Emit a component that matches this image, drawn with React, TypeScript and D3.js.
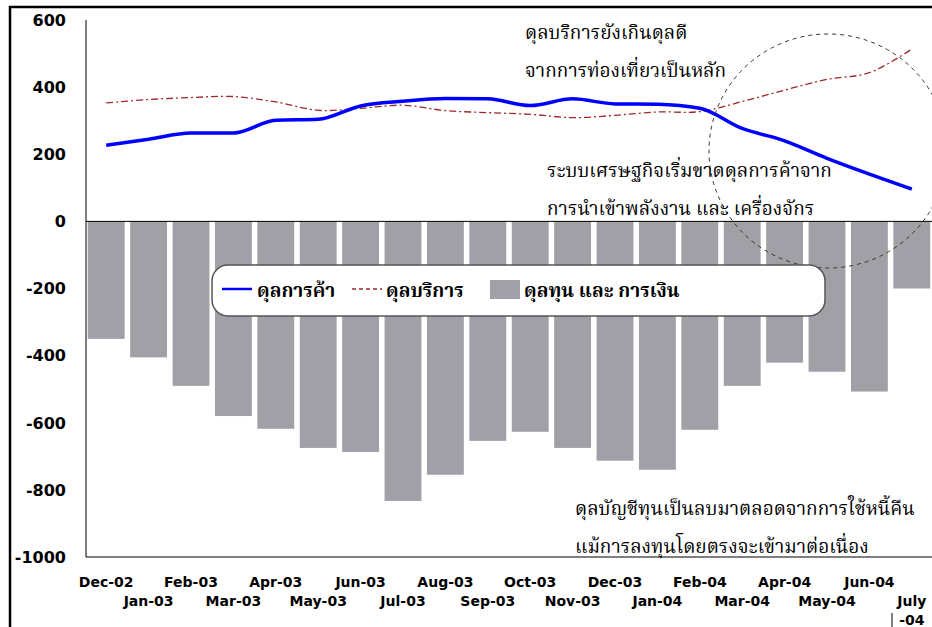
import React from 'react';
import * as d3 from 'd3';

// months shown on the x axis
const months = [
  'Dec-02', 'Jan-03', 'Feb-03', 'Mar-03', 'Apr-03', 'May-03', 'Jun-03', 'Jul-03',
  'Aug-03', 'Sep-03', 'Oct-03', 'Nov-03', 'Dec-03', 'Jan-04', 'Feb-04', 'Mar-04',
  'Apr-04', 'May-04', 'Jun-04', 'July-04',
];

// ดุลการค้า (trade balance)
const tradeBalance = [227, 245, 263, 263, 301, 304, 344, 358, 366, 365, 345, 365, 350, 349, 337, 277, 240, 188, 141, 96];
// ดุลบริการ (services balance)
const serviceBalance = [353, 363, 369, 372, 356, 331, 337, 346, 330, 324, 319, 309, 316, 326, 327, 357, 391, 423, 443, 513];
// ดุลทุน และ การเงิน (capital & financial account)
const capitalBalance = [-350, -405, -490, -580, -618, -675, -687, -833, -755, -654, -627, -675, -713, -740, -621, -490, -421, -448, -507, -200];

const yTicks = [600, 400, 200, 0, -200, -400, -600, -800, -1000];

const legendItems = ['ดุลการค้า', 'ดุลบริการ', 'ดุลทุน และ การเงิน'];

const notes = [
  { lines: ['ดุลบริการยังเกินดุลดี', 'จากการท่องเที่ยวเป็นหลัก'], x: 525, y: 39 },
  { lines: ['ระบบเศรษฐกิจเริ่มขาดดุลการค้าจาก', 'การนำเข้าพลังงาน และ เครื่องจักร'], x: 547, y: 177 },
  { lines: ['ดุลบัญชีทุนเป็นลบมาตลอดจากการใช้หนี้คืน', 'แม้การลงทุนโดยตรงจะเข้ามาต่อเนื่อง'], x: 575, y: 515 },
];

const W = 932;
const H = 627;
const plot = { left: 85, right: 933, top: 20, bottom: 557 };
const thaiFont = "'Noto Serif Thai', 'Noto Sans Thai', 'Noto Serif', serif";
const tickFont = "'DejaVu Sans', Verdana, sans-serif";

const App = () => {
  const x = d3.scaleBand()
    .domain(months)
    .range([plot.left, plot.right])
    .paddingInner(0.13)
    .paddingOuter(0.065);

  const y = d3.scaleLinear()
    .domain([-1000, 600])
    .range([plot.bottom, plot.top]);

  const cx = (m: string) => (x(m) as number) + x.bandwidth() / 2;

  const tradeLine = d3.line<number>()
    .x((d, i) => cx(months[i]))
    .y(d => y(d))
    .curve(d3.curveMonotoneX);

  const serviceLine = d3.line<number>()
    .x((d, i) => cx(months[i]))
    .y(d => y(d))
    .curve(d3.curveCatmullRom.alpha(0.5));

  // long labels (July-04) wrap onto a second line at the dash
  const splitLabel = (m: string) =>
    m.length > 6 ? [m.slice(0, m.indexOf('-')), m.slice(m.indexOf('-'))] : [m];

  return (
    <div style={{ position: 'absolute', left: 0, top: 0 }}>
      <svg width={W} height={H} viewBox={`0 0 ${W} ${H}`} style={{ display: 'block', background: 'white' }}>
        {/* outer frame pieces */}
        <line x1={9} x2={W} y1={7} y2={7} stroke="black" strokeWidth={2.5} />
        <line x1={10} x2={10} y1={6} y2={H} stroke="black" strokeWidth={2.5} />

        {/* bars */}
        {capitalBalance.map((v, i) => (
          <rect
            key={months[i]}
            x={x(months[i])}
            y={y(0)}
            width={x.bandwidth()}
            height={y(v) - y(0)}
            fill="#a1a0a7"
          />
        ))}

        {/* axes */}
        <line x1={plot.left + 1} x2={plot.left + 1} y1={plot.top} y2={plot.bottom} stroke="black" strokeWidth={1} />
        <line x1={plot.left + 1} x2={W} y1={plot.bottom} y2={plot.bottom} stroke="black" strokeWidth={1} />
        <line x1={plot.left + 1} x2={W} y1={y(0)} y2={y(0)} stroke="black" strokeWidth={1} />

        {yTicks.map(t => (
          <text
            key={t}
            x={66}
            y={y(t)}
            dy="0.36em"
            textAnchor="end"
            fontFamily={tickFont}
            fontWeight="bold"
            fontSize={16}
          >
            {t}
          </text>
        ))}

        {months.map((m, i) => {
          const parts = splitLabel(m);
          const row = i % 2;
          return parts.map((p, k) => (
            <text
              key={m + k}
              x={cx(m)}
              y={587 + (row + k) * 19}
              textAnchor="middle"
              fontFamily={tickFont}
              fontWeight="bold"
              fontSize={14}
            >
              {p}
            </text>
          ));
        })}
        <line x1={892} x2={892} y1={613} y2={627} stroke="black" strokeWidth={1} />

        {/* lines */}
        <path d={serviceLine(serviceBalance) || ''} fill="none" stroke="#9b2a2a" strokeWidth={1.3} strokeDasharray="7,3,2,3" />
        <path d={tradeLine(tradeBalance) || ''} fill="none" stroke="#0000ff" strokeWidth={3.5} />

        {/* dashed highlight circle */}
        <ellipse cx={828} cy={151} rx={119} ry={117} fill="none" stroke="#333" strokeWidth={1} strokeDasharray="4,4" />

        {/* legend */}
        <rect x={212} y={265} width={613} height={51} rx={16} fill="white" stroke="#555" strokeWidth={1.5} />
        <line x1={222} x2={252} y1={289} y2={289} stroke="#0000ff" strokeWidth={2.5} />
        <line x1={352} x2={382} y1={289} y2={289} stroke="#9b2a2a" strokeWidth={1.3} strokeDasharray="4,3" />
        <rect x={490} y={280} width={30} height={19} fill="#a1a0a7" />
        {legendItems.map((t, i) => (
          <text key={t} x={[257, 386, 524][i]} y={297} fontFamily={thaiFont} fontWeight="bold" fontSize={19}>
            {t}
          </text>
        ))}

        {/* annotations */}
        {notes.map(n =>
          n.lines.map((l, k) => (
            <text key={l} x={n.x} y={n.y + k * 38} fontFamily={thaiFont} fontSize={19}>
              {l}
            </text>
          ))
        )}
      </svg>
    </div>
  );
};

export default App;
